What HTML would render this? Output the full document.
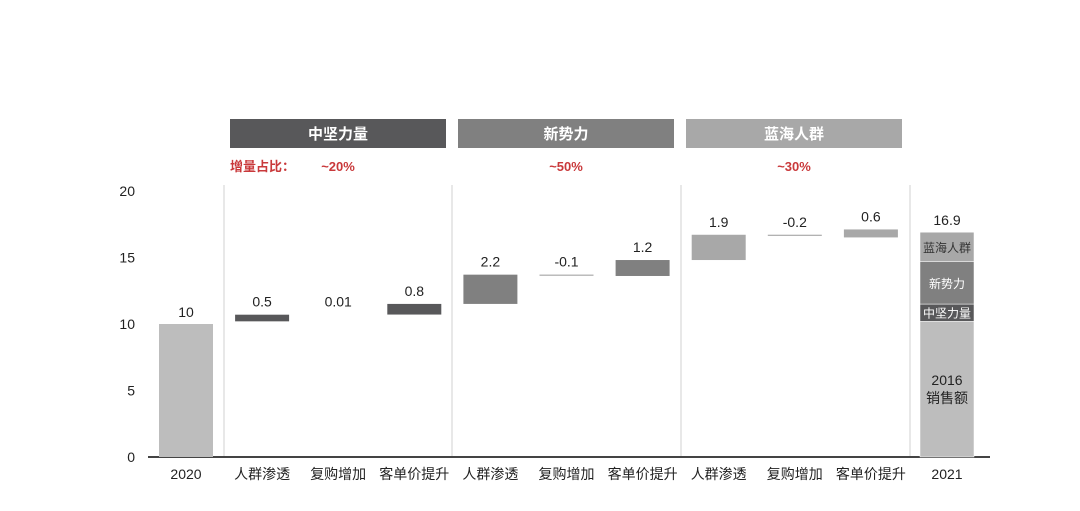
<!DOCTYPE html>
<html><head><meta charset="utf-8">
<style>
html,body{margin:0;padding:0;background:#fff;}
svg{display:block;font-family:"Liberation Sans","Noto Sans CJK SC",sans-serif;}
</style></head>
<body>
<svg id="chart" width="1080" height="511" viewBox="0 0 1080 511"></svg>
<script>
const categories = ["2020","人群渗透","复购增加","客单价提升","人群渗透","复购增加","客单价提升","人群渗透","复购增加","客单价提升","2021"];
const startValue = 10;
const waterfallBase = 10.2;
const deltas = [0.5, 0.01, 0.8, 2.2, -0.1, 1.2, 1.9, -0.2, 0.6];
const deltaLabels = ["0.5","0.01","0.8","2.2","-0.1","1.2","1.9","-0.2","0.6"];
const endSegments = [10.2, 1.3, 3.2, 2.2];
const endSegmentLabels = ["2016\n销售额","中坚力量","新势力","蓝海人群"];
const endLabel = "16.9";
const yTicks = [0,5,10,15,20];
const groups = ["中坚力量","新势力","蓝海人群"];
const groupShares = ["~20%","~50%","~30%"];

const NS="http://www.w3.org/2000/svg";
const svg=document.getElementById('chart');
const y0=457, ppu=13.3;
function yS(v){return y0-v*ppu;}
function xC(i){return 186+i*76.1;}
const bw=54;
const groupColors=["#58585a","#808080","#a8a8a8"];
const segColors=["#bdbdbd","#58585a","#808080","#a8a8a8"];
function mk(tag,attrs,text){const e=document.createElementNS(NS,tag);for(const k in attrs)e.setAttribute(k,attrs[k]);if(text!==undefined)e.textContent=text;svg.appendChild(e);return e;}

// y ticks
yTicks.forEach(t=>{
 const e=mk('text',{x:135,y:yS(t)+5,'text-anchor':'end','font-size':14,fill:'#222'},String(t));
 
 
});
// dividers
[224,452,681,910].forEach(x=>{
 const e=mk('line',{x1:x,y1:185,x2:x,y2:y0,stroke:'#d0d0d0','stroke-width':1});
 
 
});
// axis
const ax=mk('line',{x1:148,y1:y0,x2:990,y2:y0,stroke:'#444','stroke-width':2});



// group headers
groups.forEach((g,i)=>{
 const x=230+i*228;
 const r=mk('rect',{x:x,y:119,width:216,height:29,fill:groupColors[i]});
 
 
 const t=mk('text',{x:x+108,y:139,'text-anchor':'middle','font-size':15,'font-weight':'bold',fill:'#fff'},g);
 
 
 const s=mk('text',{x:x+108,y:171,'text-anchor':'middle','font-size':13,'font-weight':'bold',fill:'#c9393b'},groupShares[i]);
 
 
});
const lab=mk('text',{x:230,y:171,'font-size':13,'font-weight':'bold',fill:'#c9393b'},"增量占比：");



// x labels
categories.forEach((c,i)=>{
 const e=mk('text',{x:xC(i),y:479,'text-anchor':'middle','font-size':14,fill:'#222'},c);
 
 
});

// start bar
const sb=mk('rect',{x:xC(0)-bw/2,y:yS(startValue),width:bw,height:y0-yS(startValue),fill:'#bdbdbd'});


const sl=mk('text',{x:xC(0),y:yS(startValue)-7,'text-anchor':'middle','font-size':14,fill:'#222'},String(startValue));



// waterfall
let cum=waterfallBase;
deltas.forEach((d,i)=>{
 const a=cum,b=cum+d; cum=b;
 const top=yS(Math.max(a,b)), h=Math.max(Math.abs(d)*ppu,1);
 const gi=Math.floor(i/3);
 const col=d<0?'#999':groupColors[gi];
 if(Math.abs(d)>=0.05){
  const r=mk('rect',{x:xC(i+1)-bw/2,y:top,width:bw,height:d<0?1:h,fill:col});
  
  
 }
 const t=mk('text',{x:xC(i+1),y:yS(Math.max(a,b))-8,'text-anchor':'middle','font-size':14,fill:'#222'},deltaLabels[i]);
 
 
});

// end stacked bar
let acc=0;
endSegments.forEach((v,i)=>{
 const top=yS(acc+v), h=v*ppu;
 const r=mk('rect',{x:xC(10)-bw/2,y:top,width:bw,height:h,fill:segColors[i],stroke:'#fff','stroke-width':0.5});
 
 
 const lines=endSegmentLabels[i].split("\n");
 const mid=top+h/2;
 lines.forEach((ln,j)=>{
  const t=mk('text',{x:xC(10),y:mid+5+(j-(lines.length-1)/2)*18,'text-anchor':'middle','font-size':i===0?14:12,fill:i===0?'#222':(i===3?'#333':'#fff')},ln);
  
  
 });
 acc+=v;
});
const el=mk('text',{x:xC(10),y:yS(acc)-7,'text-anchor':'middle','font-size':14,fill:'#222'},endLabel);


</script>
</body></html>
